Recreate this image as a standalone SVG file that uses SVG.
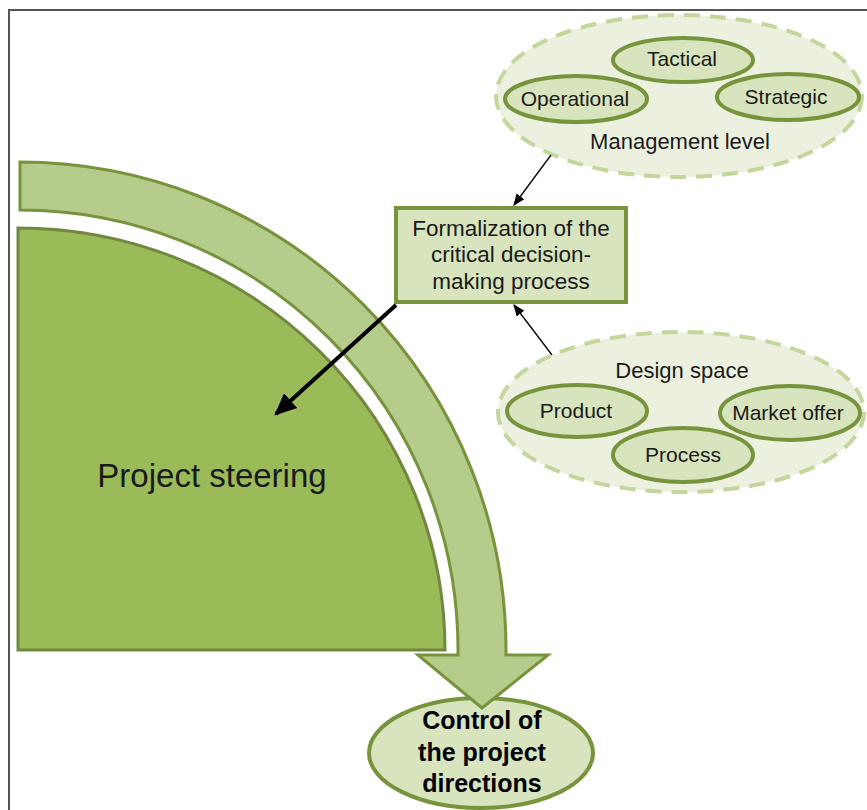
<svg xmlns="http://www.w3.org/2000/svg" width="867" height="810" viewBox="0 0 867 810">
<defs>
<style>
text{font-family:"Liberation Sans",Arial,sans-serif;fill:#1a1a1a;text-anchor:middle}
.inner{fill:#D7E4BD;stroke:#77933C;stroke-width:4}
.group{fill:#EBF1DE;stroke:#C3D69B;stroke-width:4;stroke-dasharray:16 10}
.lbl{font-size:21px}
.big{font-size:22px}
.box{font-size:22.5px}
.ctl{font-size:25px;font-weight:bold;fill:#000}
</style>
<marker id="ahThin" viewBox="0 0 10 10" refX="9" refY="5" markerWidth="12" markerHeight="12" orient="auto" markerUnits="userSpaceOnUse">
<path d="M0,1 L10,5 L0,9 Z" fill="#000"/>
</marker>
<marker id="ahBig" viewBox="0 0 10 10" refX="9" refY="5" markerWidth="22" markerHeight="22" orient="auto" markerUnits="userSpaceOnUse">
<path d="M0,0.5 L10,5 L0,9.5 Z" fill="#000"/>
</marker>
</defs>
<rect width="867" height="810" fill="#fff"/>
<path d="M9,810 L9,10 L867,10" fill="none" stroke="#555" stroke-width="2"/>

<g id="control">
<ellipse cx="481" cy="753" rx="112" ry="55" fill="#D7E4BD" stroke="#77933C" stroke-width="4"/>
<text class="ctl" x="482" y="729">Control of</text>
<text class="ctl" x="482" y="761">the project</text>
<text class="ctl" x="482" y="792">directions</text>
</g>

<g id="flow-band">
<path d="M20,162 A 486 488 0 0 1 506,650 L506,655 L548,655 L482,708 L418,655 L458,655 L458,650 A 438 440 0 0 0 20,210 Z" fill="#B5CC8A" stroke="#77933C" stroke-width="3" stroke-linejoin="miter"/>
</g>

<g id="project-steering">
<path d="M18,228 A 427 422 0 0 1 445,650 L18,650 Z" fill="#9BBB59" stroke="#71893F" stroke-width="3"/>
<text x="212" y="487" style="font-size:33px">Project steering</text>
</g>

<g id="management-level">
<ellipse class="group" cx="679" cy="96" rx="183" ry="81"/>
<text class="big" x="680" y="149">Management level</text>
</g>
<g id="tactical">
<ellipse class="inner" cx="683" cy="60" rx="70" ry="22"/>
<text class="lbl" x="682" y="66">Tactical</text>
</g>
<g id="operational">
<ellipse class="inner" cx="576" cy="99" rx="71" ry="23"/>
<text class="lbl" x="575" y="106">Operational</text>
</g>
<g id="strategic">
<ellipse class="inner" cx="788" cy="97" rx="71" ry="23"/>
<text class="lbl" x="786" y="104">Strategic</text>
</g>

<g id="design-space">
<ellipse class="group" cx="681" cy="412" rx="183" ry="80"/>
<text class="big" x="682" y="378">Design space</text>
</g>
<g id="product">
<ellipse class="inner" cx="577" cy="411" rx="70" ry="26"/>
<text class="lbl" x="576" y="418">Product</text>
</g>
<g id="market-offer">
<ellipse class="inner" cx="790" cy="413" rx="70" ry="27"/>
<text class="lbl" x="788" y="420">Market offer</text>
</g>
<g id="process">
<ellipse class="inner" cx="683" cy="455" rx="70" ry="27"/>
<text class="lbl" x="683" y="462">Process</text>
</g>

<g id="formalization">
<rect x="396" y="208" width="230" height="94" fill="#D7E4BD" stroke="#77933C" stroke-width="4"/>
<text class="box" x="511" y="236">Formalization of the</text>
<text class="box" x="511" y="262">critical decision-</text>
<text class="box" x="511" y="289">making process</text>
</g>

<g id="connectors">
<line x1="551" y1="155" x2="514" y2="205" stroke="#000" stroke-width="1.3" marker-end="url(#ahThin)"/>
<line x1="552" y1="355" x2="514" y2="305" stroke="#000" stroke-width="1.3" marker-end="url(#ahThin)"/>
<line x1="396" y1="305" x2="276" y2="414" stroke="#000" stroke-width="4" marker-end="url(#ahBig)"/>
</g>
</svg>
